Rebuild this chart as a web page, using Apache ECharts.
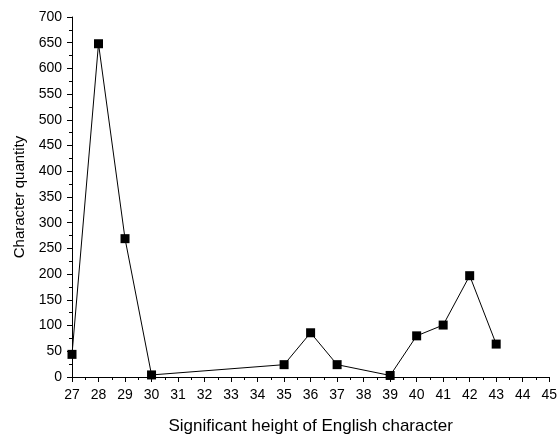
<!DOCTYPE html>
<html>
<head>
<meta charset="utf-8">
<script src="https://cdn.jsdelivr.net/npm/echarts@6/dist/echarts.min.js"></script>
<style>
  html, body { margin: 0; padding: 0; background: #fff; }
  #chart { width: 560px; height: 440px; }
</style>
</head>
<body>
<div id="chart"></div>
<script>
// heights (x) and counts (y)
var heights = [27, 28, 29, 30, 35, 36, 37, 39, 40, 41, 42, 43];
var counts = [44, 648, 269, 4, 24, 86, 24, 3, 80, 101, 197, 64];

var xTitle = 'Significant height of English character';
var yTitle = 'Character quantity';

var font = 'Arial, "Liberation Sans", sans-serif';

var chart = echarts.init(document.getElementById('chart'));

var points = heights.map(function (h, i) { return [h, counts[i]]; });

chart.setOption({
  animation: false,
  backgroundColor: '#fff',
  grid: { left: 72, right: 5, top: 17, bottom: 57 },
  xAxis: {
    type: 'value',
    min: 27, max: 45, interval: 1,
    name: xTitle,
    nameLocation: 'middle',
    nameGap: 41,
    nameTextStyle: { fontFamily: font, fontSize: 17, color: '#000' },
    axisLine: { lineStyle: { color: '#000', width: 1 } },
    axisTick: { inside: false, length: 5, lineStyle: { color: '#000' } },
    minorTick: { show: true, splitNumber: 2, length: 3, lineStyle: { color: '#000' } },
    axisLabel: { fontFamily: font, fontSize: 14, color: '#000', margin: 11 },
    splitLine: { show: false }
  },
  yAxis: {
    type: 'value',
    min: 0, max: 700, interval: 50,
    name: yTitle,
    nameLocation: 'middle',
    nameGap: 45,
    nameTextStyle: { fontFamily: font, fontSize: 15, color: '#000' },
    axisLine: { show: true, lineStyle: { color: '#000', width: 1 } },
    axisTick: { show: true, length: 5, lineStyle: { color: '#000' } },
    minorTick: { show: true, splitNumber: 2, length: 3, lineStyle: { color: '#000' } },
    axisLabel: { fontFamily: font, fontSize: 14, color: '#000', margin: 10 },
    splitLine: { show: false }
  },
  series: [{
    type: 'line',
    data: points,
    symbol: 'rect',
    symbolSize: 9,
    lineStyle: { color: '#000', width: 1 },
    itemStyle: { color: '#000' }
  }]
});
</script>
</body>
</html>
